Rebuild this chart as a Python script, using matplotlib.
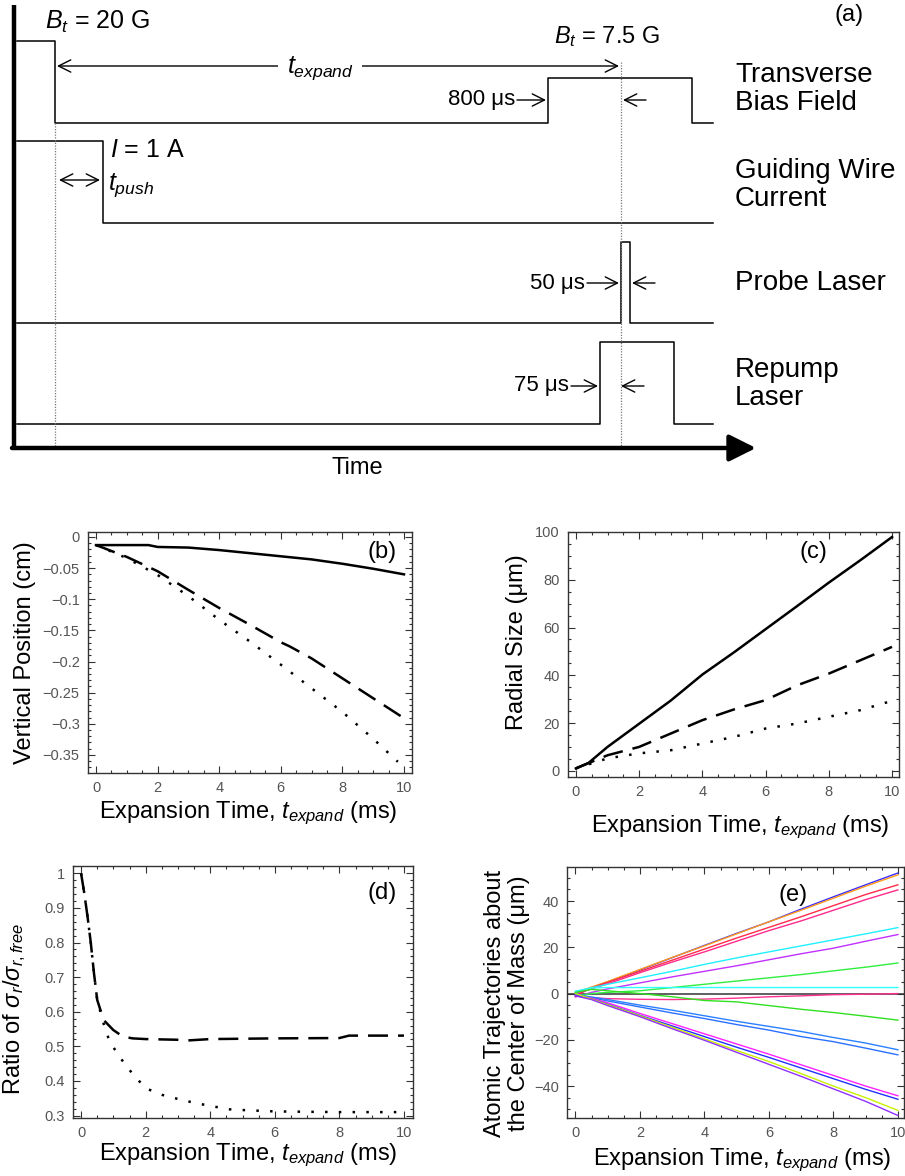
import matplotlib
matplotlib.use('Agg')
import matplotlib.pyplot as plt
from matplotlib.ticker import MultipleLocator

W, H = 905, 1176
plt.rcParams['font.family'] = ['Liberation Sans', 'DejaVu Sans']
plt.rcParams['mathtext.fontset'] = 'custom'
plt.rcParams['mathtext.rm'] = 'Liberation Sans'
plt.rcParams['mathtext.it'] = 'Liberation Sans:italic'
plt.rcParams['mathtext.bf'] = 'Liberation Sans:bold'

# ---------------- (a) timing sequence (diagram units, y grows downwards)
bias_t = [17, 55, 55, 548, 548, 692, 692, 713]
bias_y = [41, 41, 123, 123, 78, 78, 123, 123]
wire_t = [17, 103, 103, 713]
wire_y = [141, 141, 223, 223]
probe_t = [17, 621, 621, 630, 630, 713]
probe_y = [323, 323, 242, 242, 323, 323]
repump_t = [17, 600, 600, 674, 674, 713]
repump_y = [424, 424, 342, 342, 424, 424]
marker_t = [55, 621]
marker_top = [123, 62]
channel_names = ['Transverse\nBias Field', 'Guiding Wire\nCurrent', 'Probe Laser', 'Repump\nLaser']
channel_label_y = [89, 185, 283, 384]

# ---------------- (b) vertical position (cm)
tb = [0, 1, 1.7, 2, 3, 4, 5, 6, 7, 8, 9, 10]
pos_solid = [-0.013, -0.013, -0.013, -0.016, -0.017, -0.021, -0.026, -0.031, -0.036, -0.043, -0.051, -0.060]
tb_dash = [0, 1, 2, 3, 4, 5, 6, 6.3, 7, 8, 9, 10]
pos_dash = [-0.013, -0.032, -0.055, -0.085, -0.114, -0.141, -0.169, -0.176, -0.195, -0.227, -0.259, -0.291]
tb_dot = [0, 1, 2, 3, 4, 5, 6, 7, 8, 9, 9.8]
pos_dot = [-0.013, -0.034, -0.061, -0.095, -0.133, -0.168, -0.205, -0.243, -0.281, -0.324, -0.361]

# ---------------- (c) radial size (um)
tc = [0, 0.4, 1, 2, 3, 4, 5, 6, 7, 8, 9, 10]
size_solid = [1.0, 3.3, 10.0, 19.7, 29.4, 40.3, 49.6, 59.3, 69.0, 78.8, 88.2, 97.9]
tc2 = [0, 1, 2, 3, 4, 5, 6, 7, 8, 9, 10]
size_dash = [1.0, 6.5, 10.0, 15.6, 21.2, 25.7, 29.6, 35.8, 40.7, 46.3, 51.9]
size_dot = [1.0, 5.2, 7.3, 8.6, 11.4, 14.2, 17.7, 19.8, 22.6, 25.4, 29.3]

# ---------------- (d) ratio sigma_r / sigma_r,free
td_dash = [0, 0.1, 0.2, 0.3, 0.4, 0.5, 0.7, 1.0, 1.3, 1.6, 2, 3, 3.3, 4, 6, 8, 8.3, 10]
ratio_dash = [1.0, 0.942, 0.875, 0.80, 0.711, 0.634, 0.576, 0.547, 0.528, 0.523, 0.521,
              0.519, 0.517, 0.521, 0.523, 0.524, 0.531, 0.531]
td_dot = [0, 0.1, 0.2, 0.3, 0.4, 0.5, 0.7, 0.85, 1.05, 1.3, 1.6, 2, 2.5, 3, 3.5, 4, 4.6, 5, 6, 7, 8, 9, 10]
ratio_dot = [1.0, 0.942, 0.875, 0.80, 0.711, 0.634, 0.565, 0.523, 0.49, 0.456, 0.42, 0.379,
             0.36, 0.348, 0.337, 0.328, 0.318, 0.316, 0.312, 0.311, 0.31, 0.31, 0.31]

# ---------------- (e) atomic trajectories about the centre of mass (um)
te = [0, 0.5, 1, 2, 3, 4, 5, 6, 7, 8, 9, 10]
traj_colors = ['#3a2cff', '#ff9a1a', '#ff2a4a', '#ff2a8a', '#20f0ff', '#c030ff', '#30ee40', '#30ffff',
               '#ff3090', '#30e020', '#2a80ff', '#2a70ff', '#ff20ff', '#2030ff', '#c8f000', '#9030ff']
trajectories = [
    [-0.5, 2.5, 5.0, 10.2, 15.5, 20.8, 26.0, 31.0, 36.5, 41.8, 47.0, 52.1],
    [0.5, 2.8, 5.2, 10.4, 15.6, 20.6, 25.8, 31.0, 36.0, 41.2, 46.4, 51.3],
    [-1.0, 2.4, 4.8, 9.6, 14.4, 19.2, 24.0, 28.6, 33.2, 38.0, 42.8, 47.0],
    [0.0, 2.0, 4.2, 9.0, 13.6, 18.0, 22.6, 27.2, 31.4, 36.0, 40.6, 44.8],
    [1.0, 2.5, 4.0, 6.8, 9.6, 12.6, 15.4, 18.0, 20.6, 23.2, 25.8, 28.5],
    [-1.5, 0.5, 2.0, 4.6, 7.2, 9.6, 12.0, 14.6, 17.2, 19.6, 22.6, 25.5],
    [-1.0, 0.0, 0.5, 1.2, 2.6, 4.0, 5.4, 6.8, 8.2, 9.8, 11.4, 13.2],
    [0.5, 2.4, 2.6, 2.6, 2.6, 2.6, 2.6, 2.6, 2.6, 2.6, 2.6, 2.6],
    [-1.0, -1.8, -2.2, -2.5, -2.6, -2.4, -2.0, -1.4, -1.0, -0.5, -0.3, 0.0],
    [0.5, 1.8, 1.2, 0.0, -1.4, -3.0, -3.6, -5.2, -6.8, -8.2, -9.8, -11.5],
    [-0.5, -1.5, -2.6, -5.0, -7.2, -9.6, -12.0, -14.2, -16.4, -19.0, -21.4, -24.3],
    [0.0, -1.8, -3.2, -5.8, -8.4, -10.8, -13.4, -15.8, -18.6, -20.8, -23.6, -26.5],
    [-1.0, -2.0, -4.0, -8.6, -13.0, -17.4, -21.8, -26.2, -30.8, -35.4, -40.0, -44.2],
    [-0.5, -2.4, -4.6, -9.4, -14.0, -18.6, -23.2, -27.6, -32.2, -36.8, -41.4, -45.7],
    [0.0, -2.4, -4.8, -9.6, -14.6, -19.6, -24.6, -29.4, -34.6, -40.0, -45.0, -50.5],
    [-1.0, -2.6, -5.2, -10.0, -15.2, -20.2, -25.4, -30.6, -35.8, -41.2, -46.6, -52.7],
]

xticks = [0, 2, 4, 6, 8, 10]
yticks_b = [0, -0.05, -0.1, -0.15, -0.2, -0.25, -0.3, -0.35]
ylabels_b = ['0', '\u22120.05', '\u22120.1', '\u22120.15', '\u22120.2', '\u22120.25', '\u22120.3', '\u22120.35']
yticks_c = [0, 20, 40, 60, 80, 100]
yticks_d = [0.3, 0.4, 0.5, 0.6, 0.7, 0.8, 0.9, 1]
ylabels_d = ['0.3', '0.4', '0.5', '0.6', '0.7', '0.8', '0.9', '1']
yticks_e = [-40, -20, 0, 20, 40]
ylabels_e = ['\u221240', '\u221220', '0', '20', '40']

xlab = r'Expansion Time, $t_{expand}$ (ms)'
DASH = (0, (8, 4))
DOT = (0, (1, 4.5))


def fx(x):
    return x / W


def fy(y):
    return 1 - y / H


def px_axes(l, t, r, b):
    return fig.add_axes([l / W, 1 - b / H, (r - l) / W, (b - t) / H])


def frame(ax, ymin_step):
    for s in ax.spines.values():
        s.set_linewidth(1.0)
        s.set_color('#333333')
    ax.xaxis.set_minor_locator(MultipleLocator(0.5))
    ax.yaxis.set_minor_locator(MultipleLocator(ymin_step))
    ax.tick_params(which='both', direction='in', top=True, right=True,
                   labelsize=10.5, labelcolor='#555555', color='#333333', width=0.8)
    ax.tick_params(which='major', length=5, pad=6)
    ax.tick_params(which='minor', length=2.5)
    ax.set_xticks(xticks)
    ax.set_xticklabels([str(v) for v in xticks])


fig = plt.figure(figsize=(W / 100, H / 100), dpi=100)

# ---------- panel (a)
ax = fig.add_axes([0, 1 - 480 / H, 1, 480 / H])
ax.set_xlim(0, W)
ax.set_ylim(480, 0)
ax.axis('off')
lw = 1.1
ax.plot(bias_t, bias_y, color='k', lw=lw)
ax.plot(wire_t, wire_y, color='k', lw=lw)
ax.plot(probe_t, probe_y, color='k', lw=lw)
ax.plot(repump_t, repump_y, color='k', lw=lw)
for xm, ym in zip(marker_t, marker_top):
    ax.plot([xm, xm], [ym, 446], color='#777777', lw=0.9, ls=(0, (1, 1.2)))
ax.plot([14, 14], [5, 449], color='k', lw=3.2, solid_capstyle='butt')
ax.annotate('', xy=(756, 448), xytext=(12, 448),
            arrowprops=dict(arrowstyle='-|>,head_length=0.9,head_width=0.45', lw=3.2,
                            color='k', shrinkA=0, shrinkB=0, mutation_scale=18))
ax.text(357, 468, 'Time', fontsize=17, ha='center', va='center')
for name, yy in zip(channel_names, channel_label_y):
    ax.text(735, yy, name, fontsize=20, ha='left', va='center', linespacing=1.1)
ax.text(849, 15, '(a)', fontsize=17, ha='center', va='center')
ax.text(45, 22, r'$B_t$ = 20 G', fontsize=18, ha='left', va='center')
ax.text(607, 37, r'$B_t$ = 7.5 G', fontsize=17, ha='center', va='center')
ax.text(110, 150, r'$I$ = 1 A', fontsize=18, ha='left', va='center')

open_arrow = dict(arrowstyle='->', lw=1.0, color='k', shrinkA=0, shrinkB=0, mutation_scale=22)
both_arrow = dict(arrowstyle='<->', lw=1.0, color='k', shrinkA=0, shrinkB=0, mutation_scale=22)
ax.annotate('', xy=(619, 66), xytext=(57, 66), arrowprops=both_arrow)
ax.text(320, 68, r'$t_{expand}$', fontsize=18, ha='center', va='center',
        bbox=dict(facecolor='white', edgecolor='none', pad=6))
ax.annotate('', xy=(100, 180), xytext=(59, 180), arrowprops=both_arrow)
ax.text(108, 185, r'$t_{push}$', fontsize=18, ha='left', va='center')

for txt, x_txt, y_txt, x_in, x_out in [('800 \u03bcs', 517, 100, 546, 646),
                                        ('50 \u03bcs', 587, 283, 619, 655),
                                        ('75 \u03bcs', 571, 386, 598, 644)]:
    ax.text(x_txt - 2, y_txt, txt, fontsize=16, ha='right', va='center')
    ax.annotate('', xy=(x_in, y_txt), xytext=(x_txt, y_txt), arrowprops=open_arrow)
    ax.annotate('', xy=(x_out - 23, y_txt), xytext=(x_out, y_txt), arrowprops=open_arrow)

# ---------- panel (b)
ax_b = px_axes(88, 532, 412, 773)
ax_b.plot(tb, pos_solid, color='k', lw=1.8)
ax_b.plot(tb_dash, pos_dash, color='k', lw=1.8, ls=DASH)
ax_b.plot(tb_dot, pos_dot, color='k', lw=1.8, ls=DOT)
ax_b.set_xlim(-0.26, 10.26)
ax_b.set_ylim(-0.379, 0.008)
frame(ax_b, 0.01)
ax_b.set_yticks(yticks_b)
ax_b.set_yticklabels(ylabels_b)
fig.text(fx(382), fy(552), '(b)', fontsize=17, ha='center', va='center')
fig.text(fx(25), fy(653), 'Vertical Position (cm)', fontsize=17, rotation=90, ha='center', va='center')
fig.text(fx(248), fy(813), xlab, fontsize=17, ha='center', va='center')

# ---------- panel (c)
ax_c = px_axes(568, 532, 899, 777)
ax_c.plot(tc, size_solid, color='k', lw=1.8)
ax_c.plot(tc2, size_dash, color='k', lw=1.8, ls=DASH)
ax_c.plot(tc2, size_dot, color='k', lw=1.8, ls=DOT)
ax_c.set_xlim(-0.25, 10.22)
ax_c.set_ylim(-2.6, 100)
frame(ax_c, 5)
ax_c.set_yticks(yticks_c)
ax_c.set_yticklabels([str(v) for v in yticks_c])
fig.text(fx(813), fy(552), '(c)', fontsize=17, ha='center', va='center')
fig.text(fx(517), fy(642), 'Radial Size (\u03bcm)', fontsize=17, rotation=90, ha='center', va='center')
fig.text(fx(740), fy(827), xlab, fontsize=17, ha='center', va='center')

# ---------- panel (d)
ax_d = px_axes(73, 866, 413, 1118)
ax_d.plot(td_dash, ratio_dash, color='k', lw=1.8, ls=DASH)
ax_d.plot(td_dot, ratio_dot, color='k', lw=1.8, ls=DOT)
ax_d.set_xlim(-0.25, 10.28)
ax_d.set_ylim(0.293, 1.021)
frame(ax_d, 0.02)
ax_d.set_yticks(yticks_d)
ax_d.set_yticklabels(ylabels_d)
fig.text(fx(382), fy(893), '(d)', fontsize=17, ha='center', va='center')
fig.text(fx(15), fy(1009), r'Ratio of $\sigma_r/\sigma_{r,free}$', fontsize=17, rotation=90,
         ha='center', va='center')
fig.text(fx(248), fy(1155), xlab, fontsize=17, ha='center', va='center')

# ---------- panel (e)
ax_e = px_axes(567, 867, 904, 1118)
ax_e.axhline(0, color='#444444', lw=1.2, zorder=1)
for ys, c in zip(trajectories, traj_colors):
    ax_e.plot(te, ys, color=c, lw=1.0)
ax_e.set_xlim(-0.26, 10.19)
ax_e.set_ylim(-53.8, 54.7)
frame(ax_e, 5)
ax_e.set_yticks(yticks_e)
ax_e.set_yticklabels(ylabels_e)
fig.text(fx(793), fy(895), '(e)', fontsize=17, ha='center', va='center')
fig.text(fx(507), fy(1003), 'Atomic Trajectories about\nthe Center of Mass (\u03bcm)', fontsize=17,
         rotation=90, ha='center', va='center', linespacing=1.1)
fig.text(fx(742), fy(1160), xlab, fontsize=17, ha='center', va='center')

fig.savefig('out.png', dpi=100)
